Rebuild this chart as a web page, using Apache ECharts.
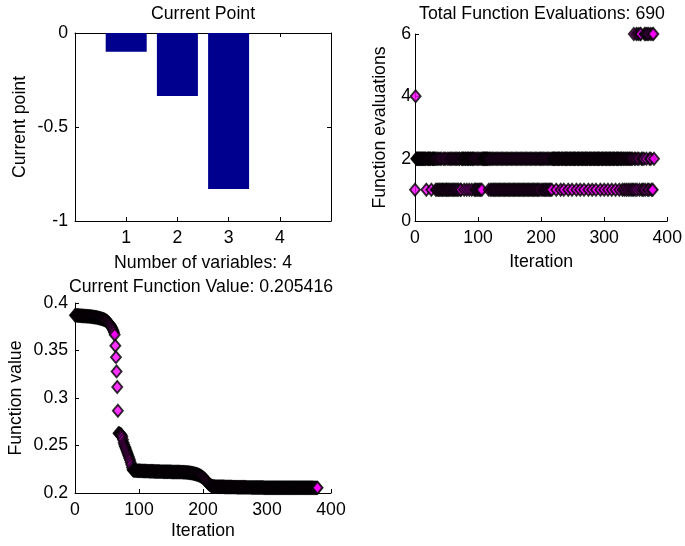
<!DOCTYPE html>
<html>
<head>
<meta charset="utf-8">
<script src="https://cdn.jsdelivr.net/npm/echarts@6/dist/echarts.min.js"></script>
<style>
  html, body { margin: 0; padding: 0; background: #fff; }
  #chart { width: 685px; height: 546px; }
</style>
</head>
<body>
<div id="chart"></div>
<script>
// Current point of the optimiser: one value per variable
const variableIndex = [1, 2, 3, 4];
const currentPoint = [-0.1, -0.335, -0.83, 0];

// Function evaluations spent at each iteration (iteration 0 .. 379)
const funcCount = [
  1,4,2,2,2,2,2,2,2,2,2,2,2,2,2,2,2,2,1,2,
  2,2,2,2,2,2,1,2,2,2,2,2,2,1,2,1,2,1,2,1,
  2,1,2,1,1,2,1,2,1,2,1,1,2,1,2,1,2,1,2,1,
  2,1,2,1,2,1,2,1,2,1,2,2,1,1,2,2,2,2,1,2,
  2,2,1,2,2,2,1,2,2,2,1,2,2,2,1,2,1,2,1,2,
  1,2,1,2,1,2,1,2,2,2,2,2,2,2,2,2,2,1,2,2,
  1,2,1,2,1,2,1,2,1,2,1,2,1,2,1,2,1,2,1,2,
  1,2,1,2,1,2,1,2,1,2,1,2,1,2,1,2,1,2,1,2,
  1,2,1,2,1,2,1,2,1,2,1,2,1,2,1,2,1,2,1,2,
  1,2,1,2,1,2,1,2,1,2,1,2,1,2,1,2,1,2,1,2,
  2,1,2,1,2,1,2,1,2,1,2,1,2,1,2,1,2,1,2,2,
  2,2,2,2,1,2,2,2,2,2,2,1,2,2,2,2,1,2,2,2,
  2,2,2,1,2,2,2,2,2,1,2,2,2,2,2,2,1,2,2,2,
  2,2,1,2,2,2,2,2,1,2,2,2,2,2,2,1,2,2,2,2,
  2,1,2,2,2,2,2,1,2,2,2,2,2,2,1,2,2,2,2,2,
  1,2,2,2,2,2,1,2,2,2,2,2,1,2,2,2,2,2,1,2,
  2,2,2,2,1,2,2,2,2,1,2,2,1,2,2,1,2,2,1,2,
  2,1,2,2,1,2,1,6,2,1,2,6,1,2,6,2,1,6,6,2,
  1,2,1,2,6,1,6,2,6,1,6,1,2,6,2,1,6,1,6,2
];

// Objective value at each iteration (iteration 0 .. 379)
const funcValue = [
  0.3872,0.3871,0.3870,0.3870,0.3869,0.3868,0.3868,0.3867,0.3866,0.3866,
  0.3865,0.3865,0.3864,0.3864,0.3863,0.3863,0.3862,0.3862,0.3861,0.3861,
  0.3860,0.3860,0.3859,0.3858,0.3858,0.3857,0.3856,0.3855,0.3854,0.3853,
  0.3852,0.3851,0.3850,0.3849,0.3847,0.3846,0.3844,0.3843,0.3841,0.3839,
  0.3837,0.3835,0.3833,0.3831,0.3829,0.3826,0.3823,0.3820,0.3816,0.3812,
  0.3807,0.3801,0.3795,0.3788,0.3780,0.3771,0.3761,0.3750,0.3738,0.3724,
  0.3708,0.3690,0.3665,0.3550,0.3430,0.3280,0.3115,0.2865,0.2630,0.2627,
  0.2624,0.2620,0.2614,0.2605,0.2590,0.2560,0.2530,0.2508,0.2490,0.2473,
  0.2455,0.2437,0.2418,0.2400,0.2382,0.2364,0.2345,0.2322,0.2297,0.2268,
  0.2246,0.2238,
  0.2237,0.2237,0.2236,0.2236,0.2236,0.2235,0.2235,0.2235,0.2234,0.2234,
  0.2234,0.2233,0.2233,0.2233,0.2232,0.2232,0.2232,0.2231,0.2231,0.2231,
  0.2230,0.2230,0.2230,0.2230,0.2229,0.2229,0.2229,0.2229,0.2228,0.2228,
  0.2228,0.2228,0.2227,0.2227,0.2227,0.2227,0.2226,0.2226,0.2226,0.2226,
  0.2226,0.2225,0.2225,0.2225,0.2225,0.2225,0.2224,0.2224,0.2224,0.2224,
  0.2224,0.2224,0.2223,0.2223,0.2223,0.2223,0.2223,0.2223,0.2223,0.2222,
  0.2222,0.2222,0.2222,0.2222,0.2222,0.2222,0.2221,0.2221,0.2221,0.2221,
  0.2221,0.2221,0.2221,0.2220,0.2220,0.2220,0.2220,0.2219,0.2219,0.2218,
  0.2218,0.2217,0.2217,0.2216,0.2215,0.2215,0.2214,0.2213,0.2212,0.2211,
  0.2210,0.2209,0.2207,0.2206,0.2204,0.2203,0.2201,0.2199,0.2197,0.2195,
  0.2193,0.2190,0.2187,0.2184,0.2180,0.2176,0.2172,0.2167,0.2162,0.2156,
  0.2150,0.2144,0.2137,0.2130,0.2122,0.2114,0.2106,0.2098,0.2091,0.2085,
  0.2080,0.2076,0.2073,0.2071,0.2069,0.2068,0.2068,0.2067,0.2067,0.2067,
  0.2067,0.2066,0.2066,0.2066,0.2066,0.2066,0.2065,0.2065,0.2065,0.2065,
  0.2065,0.2065,0.2064,0.2064,0.2064,0.2064,0.2064,0.2064,0.2063,0.2063,
  0.2063,0.2063,0.2063,0.2063,0.2062,0.2062,0.2062,0.2062,0.2062,0.2062,
  0.2062,0.2061,0.2061,0.2061,0.2061,0.2061,0.2061,0.2061,0.2060,0.2060,
  0.2060,0.2060,0.2060,0.2060,0.2060,0.2060,0.2059,0.2059,0.2059,0.2059,
  0.2059,0.2059,0.2059,0.2059,0.2058,0.2058,0.2058,0.2058,0.2058,0.2058,
  0.2058,0.2058,0.2058,0.2057,0.2057,0.2057,0.2057,0.2057,0.2057,0.2057,
  0.2057,0.2057,0.2057,0.2056,0.2056,0.2056,0.2056,0.2056,0.2056,0.2056,
  0.2056,0.2056,0.2056,0.2056,0.2056,0.2056,0.2055,0.2055,0.2055,0.2055,
  0.2055,0.2055,0.2055,0.2055,0.2055,0.2055,0.2055,0.2055,0.2055,0.2055,
  0.2055,0.2055,0.2055,0.2055,0.2055,0.2055,0.2055,0.2055,0.2055,0.2055,
  0.20548,0.20548,0.20548,0.20548,0.20547,0.20547,0.20547,0.20547,0.20547,0.20547,
  0.20546,0.20546,0.20546,0.20546,0.20546,0.20546,0.20545,0.20545,0.20545,0.20545,
  0.20545,0.20545,0.20545,0.20545,0.20544,0.20544,0.20544,0.20544,0.20544,0.20544,
  0.20544,0.20544,0.20543,0.20543,0.20543,0.20543,0.20543,0.20543,0.20543,0.20543,
  0.20543,0.20542,0.20542,0.20542,0.20542,0.20542,0.20542,0.205416
];

// Tick positions
const pointTicksY = [-1, -0.5, 0];
const countTicksY = [0, 2, 4, 6];
const iterTicks = [0, 100, 200, 300, 400];
const valueTicksY = [0.2, 0.25, 0.3, 0.35, 0.4];

const FONT = 'Liberation Sans';
const FS = 17.7;
const txt = { color: '#000', fontFamily: FONT, fontSize: FS };
const totalEvals = funcCount.reduce((a, b) => a + b, 0);
const lastValue = funcValue[funcValue.length - 1];

function baseAxis(extra) {
  return Object.assign({
    axisLine: { show: true, onZero: false, lineStyle: { color: '#000', width: 1 } },
    axisTick: { show: true, inside: true, length: 4, lineStyle: { color: '#000', width: 1 } },
    axisLabel: Object.assign({}, txt),
    splitLine: { show: false },
    nameTextStyle: Object.assign({}, txt),
    nameLocation: 'middle'
  }, extra);
}

// Diamond markers: magenta face, black edge
const markerStyle = { color: '#FF00FF', borderColor: '#000', borderWidth: 1.9 };

const option = {
  animation: false,
  backgroundColor: '#fff',
  textStyle: { fontFamily: FONT },
  title: [
    { text: 'Current Point', left: 203, top: 5, textAlign: 'center', padding: 0,
      textStyle: Object.assign({ fontWeight: 'normal' }, txt) },
    { text: 'Total Function Evaluations: ' + totalEvals, left: 542, top: 5, textAlign: 'center', padding: 0,
      textStyle: Object.assign({ fontWeight: 'normal' }, txt) },
    { text: 'Current Function Value: ' + lastValue, left: 201, top: 278, textAlign: 'center', padding: 0,
      textStyle: Object.assign({ fontWeight: 'normal' }, txt) }
  ],
  grid: [
    { left: 75, top: 33, width: 256, height: 188 },
    { left: 415, top: 34, width: 257, height: 187 },
    { left: 75, top: 303, width: 256, height: 190 }
  ],
  xAxis: [
    baseAxis({ gridIndex: 0, type: 'value', min: 0, max: 5, interval: 1, position: 'bottom',
      name: 'Number of variables: ' + currentPoint.length, nameGap: 33,
      axisLabel: Object.assign({}, txt, { margin: 8,
        formatter: v => (variableIndex.indexOf(v) >= 0 ? String(v) : '') }) }),
    baseAxis({ gridIndex: 0, type: 'value', min: 0, max: 5, interval: 1, position: 'top',
      axisLabel: { show: false } }),
    baseAxis({ gridIndex: 1, type: 'value', min: iterTicks[0], max: iterTicks[iterTicks.length - 1],
      interval: 100, name: 'Iteration', nameGap: 32, axisLabel: Object.assign({}, txt, { margin: 8 }) }),
    baseAxis({ gridIndex: 2, type: 'value', min: iterTicks[0], max: iterTicks[iterTicks.length - 1],
      interval: 100, name: 'Iteration', nameGap: 29, axisLabel: Object.assign({}, txt, { margin: 8 }) })
  ],
  yAxis: [
    baseAxis({ gridIndex: 0, type: 'value', min: pointTicksY[0], max: pointTicksY[2], interval: 0.5,
      position: 'left', name: 'Current point', nameGap: 46,
      axisLabel: Object.assign({}, txt, { margin: 7 }) }),
    baseAxis({ gridIndex: 0, type: 'value', min: pointTicksY[0], max: pointTicksY[2], interval: 0.5,
      position: 'right', axisLabel: { show: false } }),
    baseAxis({ gridIndex: 1, type: 'value', min: countTicksY[0], max: countTicksY[3], interval: 2,
      name: 'Function evaluations', nameGap: 26,
      axisLabel: Object.assign({}, txt, { margin: 4 }) }),
    baseAxis({ gridIndex: 2, type: 'value', min: valueTicksY[0], max: valueTicksY[4], interval: 0.05,
      name: 'Function value', nameGap: 50,
      axisLabel: Object.assign({}, txt, { margin: 7 }) })
  ],
  series: [
    {
      type: 'bar', xAxisIndex: 0, yAxisIndex: 0,
      data: currentPoint.map((v, i) => [variableIndex[i], v]),
      barWidth: 41,
      itemStyle: { color: '#00008F', borderWidth: 0 }
    },
    {
      type: 'scatter', xAxisIndex: 2, yAxisIndex: 2, clip: false,
      symbol: 'diamond', symbolSize: [10, 12],
      data: funcCount.map((c, i) => [i, c]),
      itemStyle: markerStyle
    },
    {
      type: 'scatter', xAxisIndex: 3, yAxisIndex: 3, clip: false,
      symbol: 'diamond', symbolSize: [10, 12],
      data: funcValue.map((v, i) => [i, v]),
      itemStyle: markerStyle
    }
  ]
};

const chart = echarts.init(document.getElementById('chart'), null, { renderer: 'canvas' });
chart.setOption(option);
</script>
</body>
</html>
